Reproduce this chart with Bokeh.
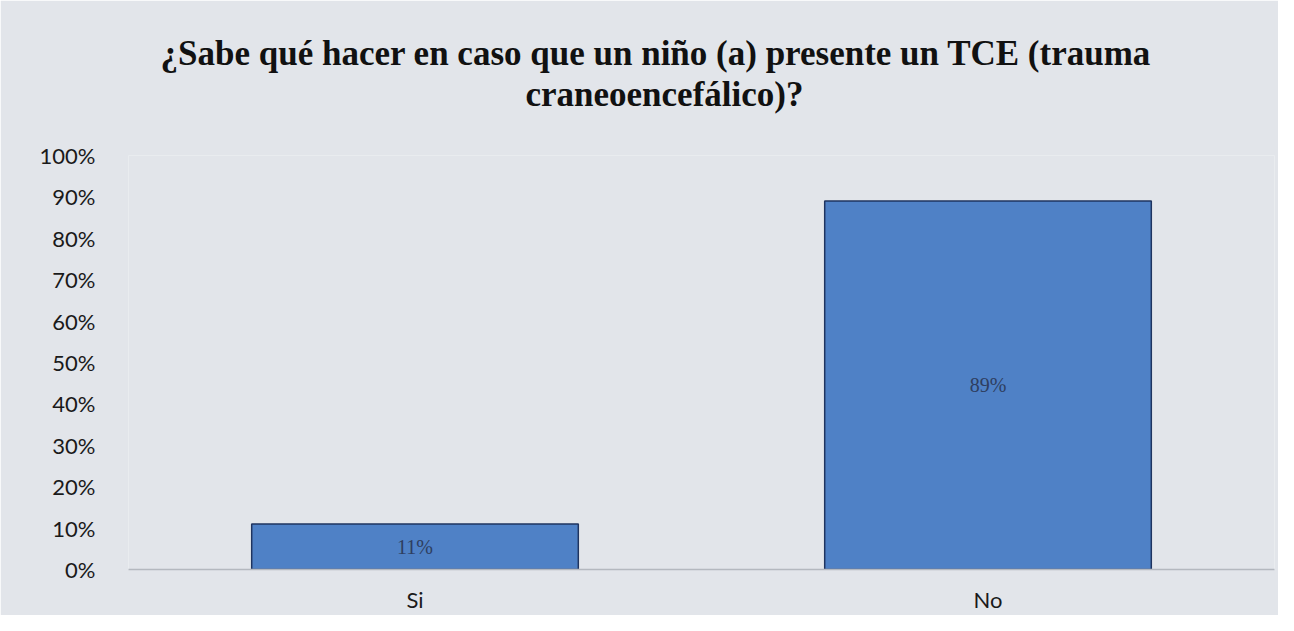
from bokeh.plotting import figure
from bokeh.models import ColumnDataSource, Range1d, FixedTicker, NumeralTickFormatter, Title, LabelSet
from bokeh.embed import file_html
from bokeh.resources import INLINE

categories = ["Si", "No"]
values = [0.11, 0.89]
labels = ["11%", "89%"]
y_ticks = [0.0, 0.1, 0.2, 0.3, 0.4, 0.5, 0.6, 0.7, 0.8, 0.9, 1.0]

bg = "#e2e5ea"

src = ColumnDataSource(dict(cat=categories, val=values, lab=labels,
                            mid=[v / 2 for v in values]))

p = figure(x_range=categories, y_range=Range1d(0, 1.0), width=1278, height=615,
           output_backend="svg", toolbar_location=None,
           min_border_left=128, min_border_right=4, min_border_bottom=45, min_border_top=155)

p.background_fill_color = bg
p.border_fill_color = bg
p.outline_line_color = None

p.vbar(x="cat", top="val", width=0.57, source=src,
       fill_color="#4f81c6", line_color="#1f3460", line_width=1.5)

p.add_layout(LabelSet(x="cat", y="mid", text="lab", source=src,
                      text_align="center", text_baseline="middle",
                      text_font="Liberation Serif", text_font_size="20px",
                      text_color="#2e3e60"))

t2 = Title(text="craneoencefálico)?", align="left", text_font="Liberation Serif",
           text_font_size="35px", text_font_style="bold", text_color="#111111",
           standoff=84, offset=397)
t1 = Title(text="¿Sabe qué hacer en caso que un niño (a) presente un TCE (trauma", align="left",
           text_font="Liberation Serif", text_font_size="35px", text_font_style="bold",
           text_color="#111111", standoff=-84, offset=32)
p.add_layout(t2, "above")
p.add_layout(t1, "above")

p.xgrid.grid_line_color = None
p.ygrid.grid_line_color = None

p.yaxis.ticker = FixedTicker(ticks=y_ticks)
p.yaxis.formatter = NumeralTickFormatter(format="0%")
p.yaxis.axis_line_color = None
p.yaxis.major_tick_line_color = None
p.yaxis.minor_tick_line_color = None
p.yaxis.major_tick_out = 0
p.yaxis.major_tick_in = 0
p.yaxis.minor_tick_out = 0
p.yaxis.major_label_standoff = 33
p.yaxis.major_label_text_font = "Lato"
p.yaxis.major_label_text_font_size = "22px"
p.yaxis.major_label_text_color = "#1a1a1a"

p.xaxis.axis_line_color = "#b4b8bf"
p.xaxis.axis_line_width = 1.5
p.xaxis.major_tick_line_color = None
p.xaxis.minor_tick_line_color = None
p.xaxis.major_tick_out = 0
p.xaxis.major_tick_in = 0
p.xaxis.minor_tick_out = 0
p.xaxis.major_label_standoff = 16
p.xaxis.major_label_text_font = "Lato"
p.xaxis.major_label_text_font_size = "22px"
p.xaxis.major_label_text_color = "#1a1a1a"

open("out.html", "w").write(file_html(p, INLINE))
